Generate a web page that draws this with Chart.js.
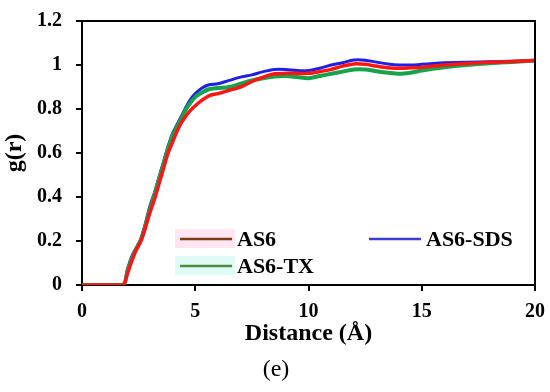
<!DOCTYPE html>
<html>
<head>
<meta charset="utf-8">
<script src="https://cdn.jsdelivr.net/npm/chart.js@4/dist/chart.umd.min.js"></script>
<style>
  body { margin: 0; background: #fff; }
  canvas { display: block; }
</style>
</head>
<body>
<canvas id="rdfChart" width="550" height="392"></canvas>
<script>
const distance = [0, 1.8, 2.0, 2.2, 2.4, 2.6, 2.8, 3.0, 3.2, 3.4, 3.6, 3.8, 4.0, 4.2, 4.4, 4.6, 4.8, 5.0, 5.3, 5.6,
    6.0, 6.5, 7.0, 7.5, 8.0, 8.5, 9.0, 9.5, 10.0, 10.5, 11.0, 11.5, 12.0, 12.5, 13.0, 13.5, 14.0, 14.5, 15.0, 15.5,
    16.0, 17.0, 18.0, 19.0, 20.0];

const as6 = [0, 0, 0.05, 0.11, 0.16, 0.2, 0.26, 0.33, 0.39, 0.46, 0.53, 0.6, 0.65, 0.7, 0.74, 0.77, 0.795, 0.815, 0.84, 0.86,
    0.87, 0.885, 0.9, 0.925, 0.945, 0.96, 0.962, 0.962, 0.962, 0.97, 0.98, 0.995, 1.005, 1.003, 0.995, 0.988, 0.985, 0.987, 0.99, 0.995,
    1.0, 1.007, 1.012, 1.016, 1.02];

const as6Sds = [0, 0, 0.07, 0.13, 0.17, 0.21, 0.28, 0.36, 0.42, 0.49, 0.56, 0.63, 0.69, 0.73, 0.77, 0.81, 0.845, 0.87, 0.895, 0.91,
    0.915, 0.93, 0.945, 0.955, 0.97, 0.98, 0.98, 0.975, 0.975, 0.985, 1.0, 1.01, 1.023, 1.022, 1.013, 1.005, 1.0, 1.0, 1.003, 1.007,
    1.01, 1.013, 1.015, 1.017, 1.02];

const as6Tx = [0, 0, 0.06, 0.12, 0.165, 0.205, 0.27, 0.345, 0.41, 0.48, 0.55, 0.62, 0.68, 0.72, 0.76, 0.8, 0.83, 0.855, 0.875, 0.89,
    0.895, 0.9, 0.915, 0.93, 0.94, 0.948, 0.95, 0.945, 0.94, 0.95, 0.96, 0.97, 0.98, 0.98, 0.972, 0.965, 0.96, 0.965, 0.975, 0.983,
    0.99, 1.0, 1.008, 1.014, 1.02];

const xTicks = [0, 5, 10, 15, 20];
const yTicks = [0, 0.2, 0.4, 0.6, 0.8, 1, 1.2];

const toPoints = ys => distance.map((d, i) => ({ x: d, y: ys[i] }));

const serif = "'Liberation Serif', 'DejaVu Serif', serif";

// legend drawn inside the plot, like the original figure
const legendItems = [
    { label: "AS6", color: "#7a3a12", halo: "#fde6f2", x: 180, y: 239 },
    { label: "AS6-SDS", color: "#3c3cd8", halo: null, x: 369, y: 239 },
    { label: "AS6-TX", color: "#4f8a42", halo: "#dffbf7", x: 180, y: 266 }
];

const framePlugin = {
    id: "frame",
    beforeDatasetsDraw(chart) {
        const ctx = chart.ctx;
        ctx.save();
        legendItems.forEach(item => {
            if (item.halo) {
                ctx.fillStyle = item.halo;
                ctx.fillRect(item.x - 5, item.y - 10, 60, 19);
            }
        });
        ctx.restore();
    },
    afterDraw(chart) {
        const ctx = chart.ctx;
        const a = chart.chartArea;
        ctx.save();
        ctx.strokeStyle = "#000";
        ctx.lineWidth = 2;
        ctx.beginPath();
        ctx.moveTo(a.left, a.top);
        ctx.lineTo(a.right, a.top);
        ctx.lineTo(a.right, a.bottom);
        ctx.stroke();

        ctx.font = "bold 22px " + serif;
        ctx.textBaseline = "middle";
        legendItems.forEach(item => {
            ctx.strokeStyle = item.color;
            ctx.lineWidth = 2.5;
            ctx.beginPath();
            ctx.moveTo(item.x, item.y);
            ctx.lineTo(item.x + 52, item.y);
            ctx.stroke();
            ctx.fillStyle = "#000";
            ctx.fillText(item.label, item.x + 57, item.y + 1);
        });

        ctx.font = "24px " + serif;
        ctx.textAlign = "center";
        ctx.fillText("(e)", 276, 370);
        ctx.restore();
    }
};

new Chart(document.getElementById("rdfChart"), {
    type: "line",
    data: {
        datasets: [
            { label: "AS6", data: toPoints(as6), borderColor: "#ff1414", borderWidth: 3.5 },
            { label: "AS6-TX", data: toPoints(as6Tx), borderColor: "#16a34a", borderWidth: 4 },
            { label: "AS6-SDS", data: toPoints(as6Sds), borderColor: "#1e1ee6", borderWidth: 3 }
        ]
    },
    options: {
        responsive: false,
        animation: false,
        layout: { padding: { top: 21, right: 15, left: 0, bottom: 44 } },
        elements: { point: { radius: 0 }, line: { tension: 0.3 } },
        plugins: { legend: { display: false }, tooltip: { enabled: false } },
        scales: {
            x: {
                type: "linear",
                min: 0,
                max: 20,
                afterFit: s => { s.height = 63; s.paddingLeft = 0; s.paddingRight = 0; },
                afterBuildTicks: s => { s.ticks = xTicks.map(v => ({ value: v })); },
                grid: { drawOnChartArea: false, drawTicks: true, tickLength: 6, color: "#000", lineWidth: 2 },
                border: { display: true, color: "#000", width: 2 },
                ticks: { color: "#000", padding: 9, font: { family: serif, size: 20, weight: "bold" } },
                title: {
                    display: true, text: "Distance (Å)", color: "#000", padding: { top: 0, bottom: 0 },
                    font: { family: serif, size: 24, weight: "bold" }
                }
            },
            y: {
                min: 0,
                max: 1.2,
                afterFit: s => { s.width = 82; s.paddingTop = 0; s.paddingBottom = 0; },
                afterBuildTicks: s => { s.ticks = yTicks.map(v => ({ value: v })); },
                grid: { drawOnChartArea: false, drawTicks: true, tickLength: 6, color: "#000", lineWidth: 2 },
                border: { display: true, color: "#000", width: 2 },
                ticks: {
                    color: "#000", padding: 14, font: { family: serif, size: 20, weight: "bold" },
                    callback: v => String(Number(v.toFixed(1)))
                },
                title: {
                    display: true, text: "g(r)", color: "#000", padding: { top: 0, bottom: 0 },
                    font: { family: serif, size: 24, weight: "bold" }
                }
            }
        }
    },
    plugins: [framePlugin]
});
</script>
</body>
</html>
